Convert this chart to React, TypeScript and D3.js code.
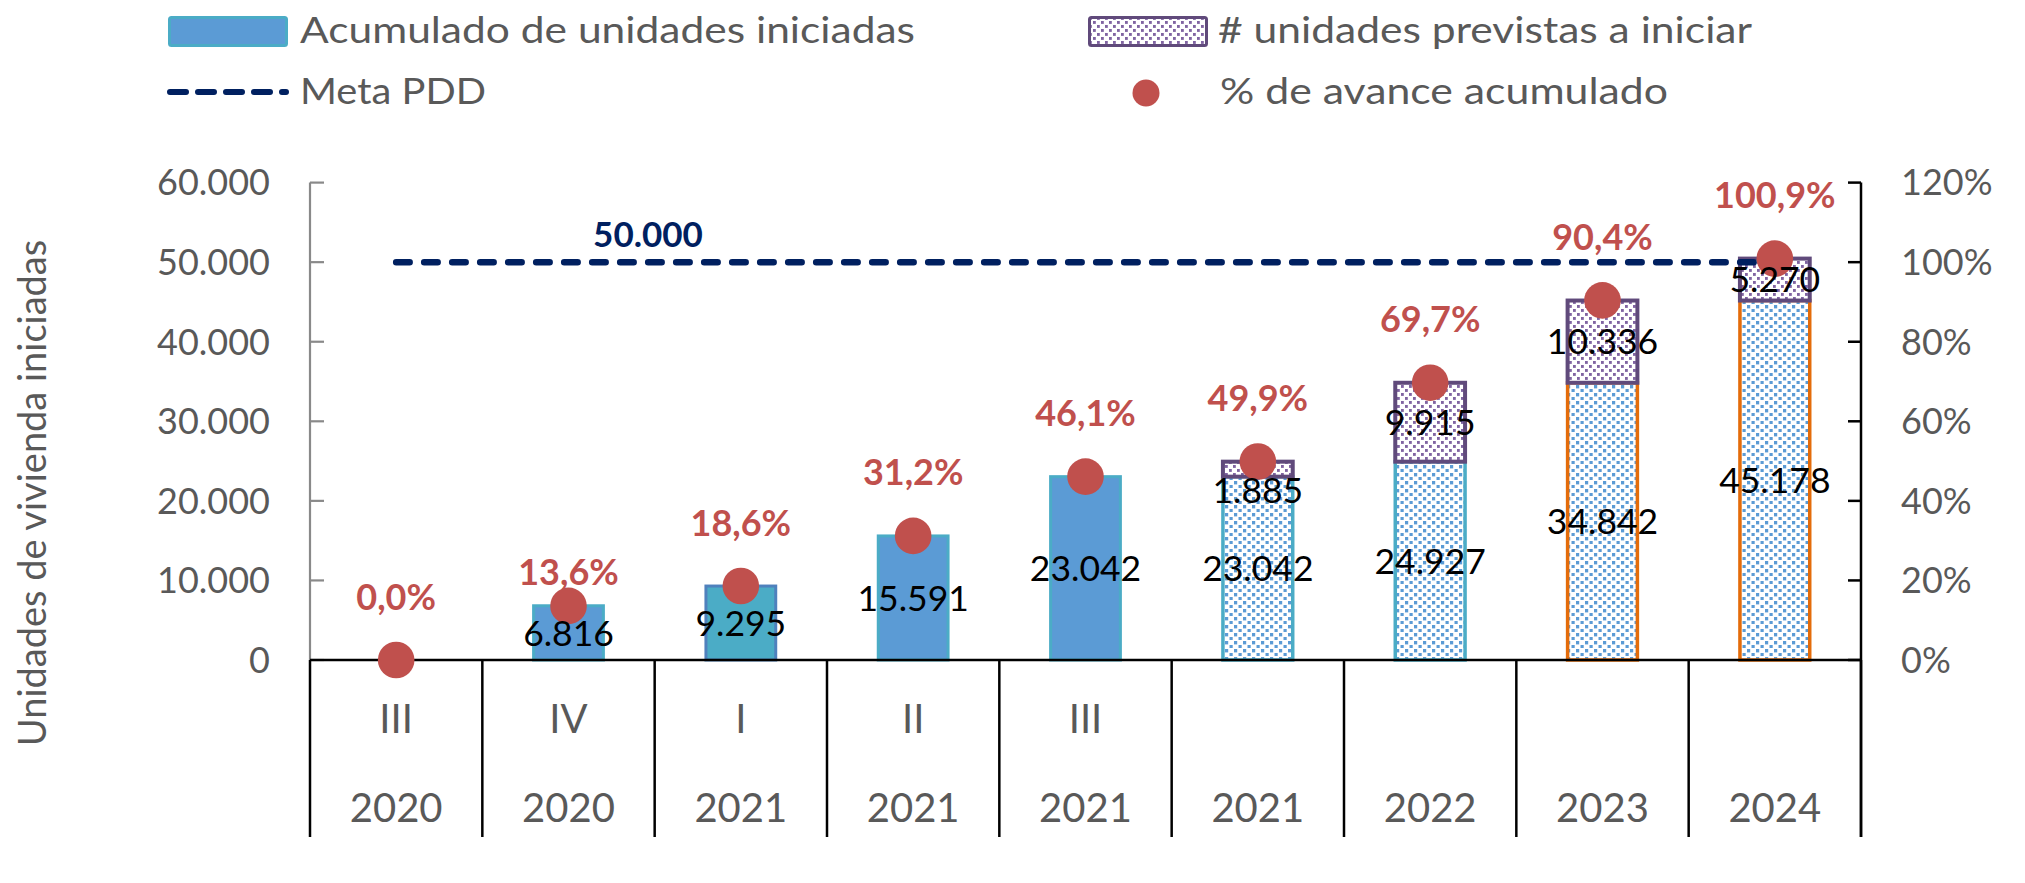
import React from "react";
import * as d3 from "d3";

// quarter / year labels of the two-level category axis
const quarters = ["III", "IV", "I", "II", "III", "", "", "", ""];
const years = ["2020", "2020", "2021", "2021", "2021", "2021", "2022", "2023", "2024"];

// cumulative units started and units expected to start (stacked on top)
const started = [0, 6816, 9295, 15591, 23042, 23042, 24927, 34842, 45178];
const planned = [0, 0, 0, 0, 0, 1885, 9915, 10336, 5270];
// cumulative progress against the PDD goal
const progress = [0, 0.136, 0.186, 0.312, 0.461, 0.499, 0.697, 0.904, 1.009];
const goal = 50000;

const leftTicks = [0, 10000, 20000, 30000, 40000, 50000, 60000];
const rightTicks = [0, 0.2, 0.4, 0.6, 0.8, 1.0, 1.2];

// bar look per category
const barFill = ["solid", "solid", "teal", "solid", "solid", "dots", "dots", "dots", "dots"];
const barEdge = ["#4BACC6", "#4BACC6", "#4F81BD", "#4BACC6", "#4BACC6", "#4BACC6", "#4BACC6", "#E46C0A", "#E46C0A"];

const W = 2025;
const H = 883;
const FONT = "Lato, 'Open Sans', sans-serif";
const GRAY = "#595959";
const RED = "#C0504D";
const NAVY = "#002060";
const BLUE = "#5B9BD5";
const TEAL = "#4BACC6";
const PURPLE = "#604A7B";

const es = d3.formatLocale({ decimal: ",", thousands: ".", grouping: [3], currency: ["", "€"] });
const fmtNum = es.format(",");
const fmtPct = es.format(".1%");

export default function App() {
  const left = 310;
  const right = 1861;
  const base = 660;
  const top = 182.6;
  const axisBottom = 837;

  const x = d3.scaleBand<number>().domain(d3.range(years.length)).range([left, right]).padding(0);
  const y = d3.scaleLinear().domain([0, 60000]).range([base, top]);
  const yPct = d3.scaleLinear().domain([0, 1.2]).range([base, top]);
  const bw = x.bandwidth() * 0.405;
  const cx = (i: number) => (x(i) as number) + x.bandwidth() / 2;

  const goalLine = d3.line<number>().x((i) => cx(i)).y(() => y(goal));

  const fillFor = (i: number) =>
    barFill[i] === "dots" ? "url(#dotsBlue)" : barFill[i] === "teal" ? TEAL : BLUE;

  return (
    <div style={{ position: "absolute", left: 0, top: 0 }}>
      <svg width={W} height={H} style={{ display: "block", background: "#fff" }}>
        <defs>
          <pattern id="dotsBlue" width="9" height="8" patternUnits="userSpaceOnUse">
            <rect width="9" height="8" fill="#fff" />
            <rect x="1" y="1" width="3.2" height="3.4" fill={BLUE} />
            <rect x="5.5" y="5" width="3.2" height="3.4" fill={BLUE} />
          </pattern>
          <pattern id="dotsPurple" width="8" height="8" patternUnits="userSpaceOnUse">
            <rect width="8" height="8" fill="#fff" />
            <rect x="1" y="1" width="2.8" height="2.9" fill="#8064A2" />
            <rect x="5" y="5" width="2.8" height="2.9" fill="#8064A2" />
          </pattern>
        </defs>

        {/* legend */}
        <g fontFamily={FONT} fill={GRAY} fontSize={36.5}>
          <rect x={169.5} y={17.5} width={117} height={28} rx={2} fill={BLUE} stroke={TEAL} strokeWidth={3} />
          <text x={300} y={42.5} textLength={615} lengthAdjust="spacingAndGlyphs">Acumulado de unidades iniciadas</text>
          <rect x={1089.5} y={17.5} width={117} height={28} rx={2} fill="url(#dotsPurple)" stroke={PURPLE} strokeWidth={3} />
          <text x={1218} y={42.5} textLength={534} lengthAdjust="spacingAndGlyphs"># unidades previstas a iniciar</text>
          <line x1={170} x2={286} y1={92} y2={92} stroke={NAVY} strokeWidth={6} strokeDasharray="16 12" strokeLinecap="round" />
          <text x={300} y={104} textLength={186} lengthAdjust="spacingAndGlyphs">Meta PDD</text>
          <circle cx={1146} cy={93} r={13.5} fill={RED} />
          <text x={1220} y={104} textLength={448} lengthAdjust="spacingAndGlyphs">% de avance acumulado</text>
        </g>

        {/* y axis title */}
        <text
          transform={`translate(46,493) rotate(-90)`}
          textAnchor="middle"
          fontFamily={FONT}
          fontSize={38}
          fill={GRAY}
        >
          Unidades de vivienda iniciadas
        </text>

        {/* left axis */}
        <line x1={left} x2={left} y1={top} y2={base} stroke="#898989" strokeWidth={2.2} />
        {leftTicks.map((t) => (
          <g key={"l" + t}>
            <line x1={left} x2={left + 14} y1={y(t)} y2={y(t)} stroke="#898989" strokeWidth={2.2} />
            <text x={270} y={y(t) + 12.8} textAnchor="end" fontFamily={FONT} fontSize={36} fill={GRAY}>
              {fmtNum(t)}
            </text>
          </g>
        ))}

        {/* right axis */}
        <line x1={right} x2={right} y1={top} y2={axisBottom} stroke="#000" strokeWidth={2.5} />
        {rightTicks.map((t) => (
          <g key={"r" + t}>
            <line x1={right - 13} x2={right} y1={yPct(t)} y2={yPct(t)} stroke="#000" strokeWidth={2.5} />
            <text x={1901} y={yPct(t) + 12.8} fontFamily={FONT} fontSize={36} fill={GRAY}>
              {es.format(".0%")(t)}
            </text>
          </g>
        ))}

        {/* bars: started units */}
        {started.map((v, i) =>
          v > 0 ? (
            <rect
              key={"s" + i}
              x={cx(i) - bw / 2}
              y={y(v)}
              width={bw}
              height={base - y(v)}
              fill={fillFor(i)}
              stroke={barEdge[i]}
              strokeWidth={barFill[i] === "dots" ? 3.5 : 3}
            />
          ) : null
        )}
        {/* bars: planned units stacked on top */}
        {planned.map((v, i) =>
          v > 0 ? (
            <rect
              key={"p" + i}
              x={cx(i) - bw / 2}
              y={y(started[i] + v)}
              width={bw}
              height={y(started[i]) - y(started[i] + v)}
              fill="url(#dotsPurple)"
              stroke={PURPLE}
              strokeWidth={4}
            />
          ) : null
        )}

        {/* category axis */}
        <line x1={left} x2={right} y1={base} y2={base} stroke="#000" strokeWidth={2.5} />
        {d3.range(years.length + 1).map((k) => {
          const xx = k === years.length ? right : (x(k) as number);
          return <line key={"d" + k} x1={xx} x2={xx} y1={base} y2={axisBottom} stroke="#000" strokeWidth={2.5} />;
        })}
        {years.map((yr, i) => (
          <g key={"c" + i} fontFamily={FONT} fontSize={40} fill={GRAY} textAnchor="middle">
            <text x={cx(i)} y={733}>{quarters[i]}</text>
            <text x={cx(i)} y={822}>{yr}</text>
          </g>
        ))}

        {/* goal line */}
        <path
          d={goalLine([0, years.length - 1]) || ""}
          fill="none"
          stroke={NAVY}
          strokeWidth={6.5}
          strokeDasharray="13.5 14.5"
          strokeLinecap="round"
        />
        <text x={648} y={247} textAnchor="middle" fontFamily={FONT} fontWeight="bold" fontSize={35} fill={NAVY}>
          {fmtNum(goal)}
        </text>

        {/* progress dots */}
        {progress.map((p, i) => (
          <circle key={"m" + i} cx={cx(i)} cy={yPct(p)} r={18.3} fill={RED} />
        ))}

        {/* value labels */}
        {started.map((v, i) =>
          v > 0 ? (
            <text key={"sv" + i} x={cx(i)} y={(y(v) + base) / 2 + 12.8} textAnchor="middle" fontFamily={FONT} fontSize={35.5} fill="#000">
              {fmtNum(v)}
            </text>
          ) : null
        )}
        {planned.map((v, i) => {
          if (v <= 0) return null;
          const y1 = y(started[i] + v);
          const y0 = y(started[i]);
          const mid = y0 - y1 < 24 ? y1 + 29 : (y0 + y1) / 2;
          return (
            <text key={"pv" + i} x={cx(i)} y={mid + 12.8} textAnchor="middle" fontFamily={FONT} fontSize={35.5} fill="#000">
              {fmtNum(v)}
            </text>
          );
        })}
        {progress.map((p, i) => (
          <text
            key={"pl" + i}
            x={cx(i)}
            y={yPct(p) - (i === 1 ? 33 : 63) + 12.6}
            textAnchor="middle"
            fontFamily={FONT}
            fontWeight="bold"
            fontSize={36}
            fill={RED}
          >
            {fmtPct(p)}
          </text>
        ))}
      </svg>
    </div>
  );
}
